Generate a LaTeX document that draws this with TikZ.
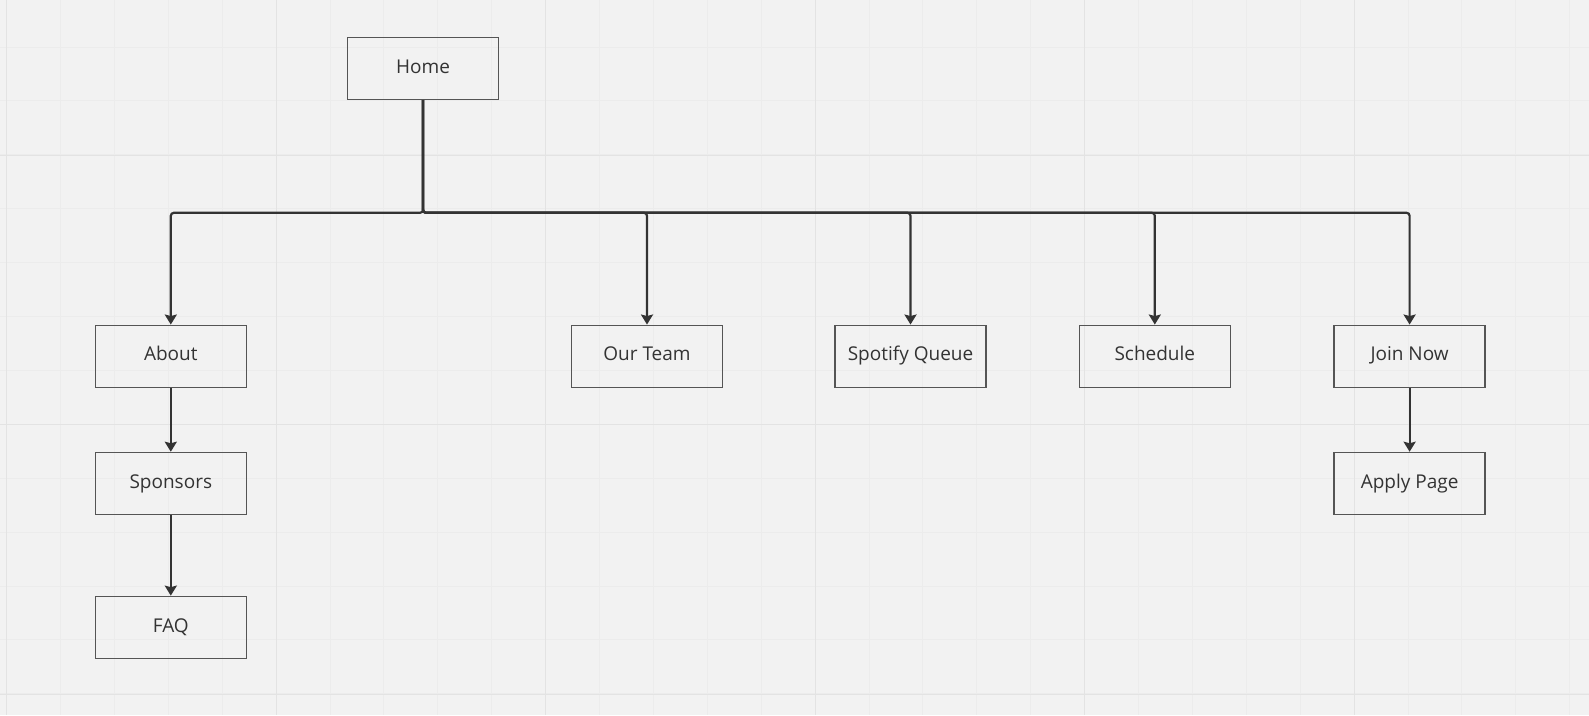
\documentclass[tikz,border=0pt]{standalone}
\usepackage{fontspec}
\setmainfont{Open Sans}
\usetikzlibrary{arrows.meta}
\definecolor{bg}{HTML}{F2F2F2}
\definecolor{gridminor}{HTML}{ECECEC}
\definecolor{gridmajor}{HTML}{E3E3E3}
\definecolor{boxline}{HTML}{555555}
\definecolor{ink}{HTML}{333333}
\tikzset{
  page/.style={draw=boxline, line width=1.3pt, minimum width=151pt, minimum height=62pt,
    inner sep=0pt, text=ink, text height=14pt, text depth=4.5pt,
    font=\fontsize{19pt}{22pt}\selectfont},
  link/.style={draw=ink, line width=2.2pt, rounded corners=3pt,
    -{Stealth[width=12pt,length=10pt,inset=1.5pt]}},
}
\begin{document}
\begin{tikzpicture}[x=1pt,y=-1pt]
\fill[bg] (0,0) rectangle (1589,715);
\useasboundingbox (0,0) rectangle (1589,715);
% grid
\foreach \i in {0,...,29} {
  \pgfmathsetmacro\gx{6.5+53.9*\i}
  \draw[gridminor, line width=0.8pt] (\gx,0) -- (\gx,715);
}
\foreach \i in {0,...,13} {
  \pgfmathsetmacro\gy{-7+53.9*\i}
  \draw[gridminor, line width=0.8pt] (0,\gy) -- (1589,\gy);
}
\foreach \gx in {6.5,276,545.5,815,1084.5,1354} {
  \draw[gridmajor, line width=1pt] (\gx,0) -- (\gx,715);
}
\foreach \gy in {155,424.5,694} {
  \draw[gridmajor, line width=1pt] (0,\gy) -- (1589,\gy);
}
% nodes
\node[page] (home) at (423,68.4) {Home};
\node[page] (about) at (170.8,356.2) {About};
\node[page] (team) at (647,356.2) {Our Team};
\node[page] (spotify) at (910.5,356.2) {Spotify Queue};
\node[page] (sched) at (1154.8,356.2) {Schedule};
\node[page] (join) at (1409.6,356.2) {Join Now};
\node[page] (spons) at (170.8,483.4) {Sponsors};
\node[page] (faq) at (170.8,627.3) {FAQ};
\node[page] (apply) at (1409.6,483.4) {Apply Page};
% connectors
\foreach \c in {about,team,spotify,sched,join} {
  \draw[link] (home.south) -- (home.south |- 0,212.8) -- (\c.north |- 0,212.8) -- (\c.north);
}
\draw[link] (about.south) -- (spons.north);
\draw[link] (spons.south) -- (faq.north);
\draw[link] (join.south) -- (apply.north);
\end{tikzpicture}
\end{document}
